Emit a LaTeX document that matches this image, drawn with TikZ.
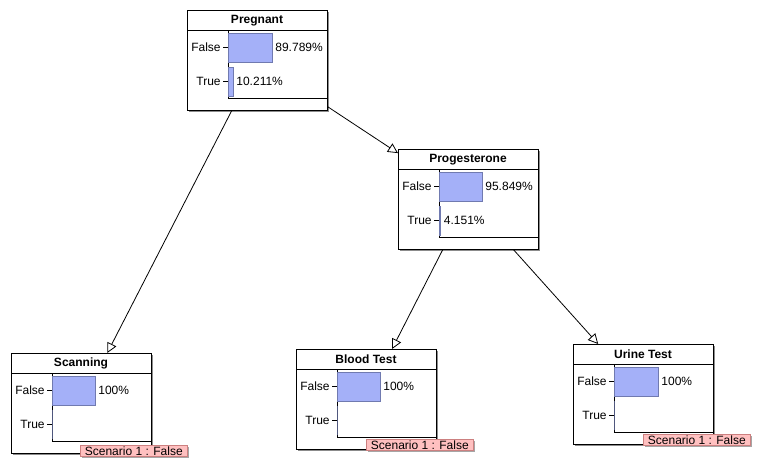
\documentclass[tikz,border=0pt]{standalone}
\usepackage{fontspec}
\setmainfont{Liberation Sans}
\usetikzlibrary{arrows.meta,shadows,positioning}
\tikzset{>={Triangle[open,width=10pt,length=10pt]}}
\definecolor{barblue}{RGB}{164,176,248}
\definecolor{baredge}{RGB}{112,122,176}
\definecolor{scenpink}{RGB}{255,192,192}
\definecolor{scenedge}{RGB}{204,128,128}
\tikzset{
  netbox/.style={draw, fill=white, anchor=north west, inner sep=0pt,
    minimum width=140pt, minimum height=100pt,
    drop shadow={shadow xshift=2pt, shadow yshift=-2pt, fill=black!45, opacity=1}},
  nettitle/.style={font=\fontsize{12}{14}\selectfont\bfseries, inner sep=0pt},
  statebar/.style={draw=baredge, fill=barblue},
  scenario/.style={draw=scenedge, fill=scenpink, anchor=north west,
    inner xsep=4.5pt, inner ysep=1pt,
    drop shadow={shadow xshift=2pt, shadow yshift=-2pt, fill=black!35, opacity=1}}
}

\begin{document}
\begin{tikzpicture}[x=1pt, y=-1pt, line width=0.8pt, font=\fontsize{12}{14}\selectfont]

  \newcommand\netnode[8]{%
    \node[netbox] (#1) at (#2,#3) {};
    \begin{scope}[shift={(#2,#3)}]
      \node[nettitle] (#1-title) at (70,10.5) {#4};
      \draw (0,20) -- (140,20);
      \draw (41,20) -- (41,88.5) -- (140,88.5);
      \draw[statebar] (41,23) rectangle (41+#5,52);
      \draw[statebar] (41,57) rectangle (41+#7,86);
      \draw (36,37.5) -- (41,37.5);
      \draw (36,71.5) -- (41,71.5);
      \node[anchor=east, inner sep=0pt] (#1-false) at (34,37.5) {False};
      \node[anchor=east, inner sep=0pt] (#1-true) at (34,71.5) {True};
      \node[anchor=west, inner sep=0pt] (#1-fp) at (44+#5,37.5) {#6};
      \node[anchor=west, inner sep=0pt] (#1-tp) at (44+#7,71.5) {#8};
    \end{scope}}

  \useasboundingbox (0,0) rectangle (761,469);

  \netnode{preg}{187}{10}{Pregnant}{44}{89.789\%}{5}{10.211\%}
  \netnode{prog}{398}{149}{Progesterone}{43}{95.849\%}{1.5}{4.151\%}
  \netnode{scan}{11}{353}{Scanning}{43}{100\%}{0}{}
  \netnode{blood}{296}{349}{Blood Test}{43}{100\%}{0}{}
  \netnode{urine}{573}{344}{Urine Test}{44}{100\%}{0}{}

  \draw[->] (preg) -- (scan);
  \draw[->] (preg) -- (prog);
  \draw[->] (prog) -- (blood);
  \draw[->] (prog) -- (urine);

  % scenario labels
  \node[scenario] (scan-scen) at ([shift={(69pt,-92pt)}]scan.north west) {Scenario 1 : False};
  \node[scenario] (blood-scen) at ([shift={(70pt,-90pt)}]blood.north west) {Scenario 1 : False};
  \node[scenario] (urine-scen) at ([shift={(70pt,-90pt)}]urine.north west) {Scenario 1 : False};
\end{tikzpicture}
\end{document}
